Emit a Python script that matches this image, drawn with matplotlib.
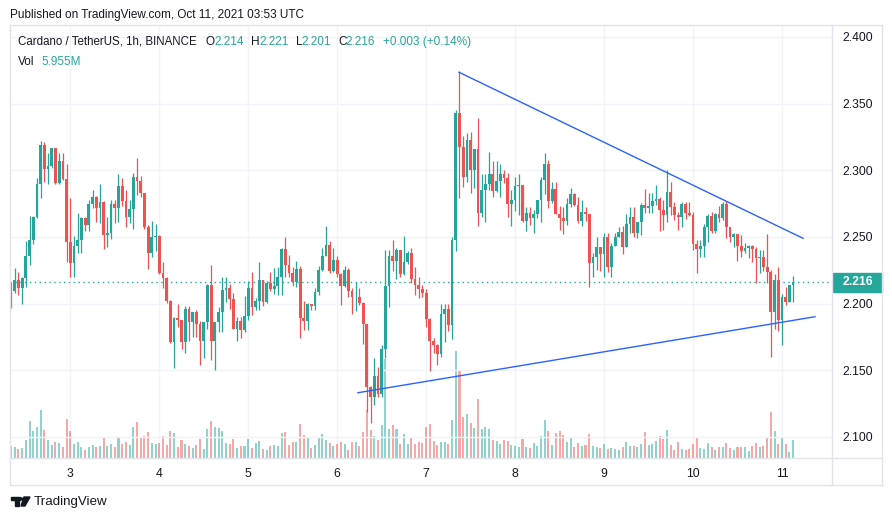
import numpy as np
import matplotlib.pyplot as plt
from matplotlib.lines import Line2D
from matplotlib.patches import Rectangle, Polygon, Circle
import matplotlib.transforms as mtransforms

plt.rcParams['font.family'] = ['Liberation Sans', 'DejaVu Sans']


# ADA/USDT 1h candles, Oct 2 08:00 UTC -> Oct 11 03:00 UTC
first_open = 2.2153

close = [
    2.2098, 2.2178, 2.2115, 2.2190, 2.2358, 2.2478, 2.2653, 2.2898, 2.3190, 2.3013,
    2.3033, 2.3165, 2.2908, 2.3073, 2.2938, 2.2465, 2.2308, 2.2433, 2.2478, 2.2645,
    2.2590, 2.2748, 2.2798, 2.2715, 2.2765, 2.2518, 2.2533, 2.2748, 2.2715, 2.2883,
    2.2770, 2.2653, 2.2708, 2.2948, 2.2923, 2.2833, 2.2578, 2.2383, 2.2503, 2.2508,
    2.2228, 2.2195, 2.2023, 2.1715, 2.1893, 2.1878, 2.1715, 2.1958, 2.1865, 2.1938,
    2.1845, 2.1723, 2.1860, 2.2140, 2.1723, 2.1865, 2.1935, 2.2103, 2.2115, 2.2038,
    2.1808, 2.1873, 2.1803, 2.1910, 2.2120, 2.1978, 2.2020, 2.2178, 2.2015, 2.2153,
    2.2110, 2.2135, 2.2203, 2.2408, 2.2290, 2.2233, 2.2165, 2.2258, 2.1895, 2.1870,
    2.1995, 2.1983, 2.2085, 2.2253, 2.2358, 2.2440, 2.2248, 2.2328, 2.2220, 2.2135,
    2.2253, 2.2098, 2.2048, 2.2053, 2.2008, 2.1845, 2.1378, 2.1298, 2.1458, 2.1323,
    2.1658, 2.2133, 2.2358, 2.2323, 2.2403, 2.2223, 2.2315, 2.2383, 2.2185, 2.2140,
    2.2108, 2.2083, 2.1885, 2.1723, 2.1690, 2.1623, 2.1920, 2.1960, 2.1840, 2.2478,
    2.3428, 2.3178, 2.2948, 2.3228, 2.3000, 2.3158, 2.2683, 2.2853, 2.2898, 2.2970,
    2.2848, 2.2923, 2.2973, 2.2940, 2.2748, 2.2778, 2.2883, 2.2888, 2.2623, 2.2678,
    2.2645, 2.2673, 2.2778, 2.2928, 2.3048, 2.2773, 2.2860, 2.2673, 2.2645, 2.2623,
    2.2748, 2.2823, 2.2740, 2.2623, 2.2685, 2.2673, 2.2303, 2.2353, 2.2423, 2.2370,
    2.2498, 2.2278, 2.2433, 2.2498, 2.2540, 2.2428, 2.2598, 2.2653, 2.2528, 2.2610,
    2.2740, 2.2715, 2.2733, 2.2770, 2.2783, 2.2703, 2.2665, 2.2840, 2.2728, 2.2665,
    2.2653, 2.2748, 2.2678, 2.2668, 2.2445, 2.2413, 2.2433, 2.2578, 2.2658, 2.2548,
    2.2670, 2.2643, 2.2748, 2.2578, 2.2503, 2.2523, 2.2433, 2.2398, 2.2418, 2.2433,
    2.2408, 2.2340, 2.2353, 2.2278, 2.2240, 2.1940, 2.2180, 2.1880, 2.2050, 2.2013,
    2.2140, 2.2160,
]

high = [
    2.2165, 2.2265, 2.2235, 2.2200, 2.2473, 2.2658, 2.2660, 2.2940, 2.3220, 2.3213,
    2.3133, 2.3170, 2.3133, 2.3130, 2.3133, 2.3050, 2.2795, 2.2508, 2.2683, 2.2653,
    2.2653, 2.2778, 2.2853, 2.2808, 2.2898, 2.2770, 2.2648, 2.2778, 2.2778, 2.2973,
    2.2940, 2.2853, 2.2778, 2.2983, 2.3090, 2.2958, 2.2833, 2.2590, 2.2623, 2.2598,
    2.2515, 2.2315, 2.2198, 2.2028, 2.1903, 2.1998, 2.1878, 2.1983, 2.1983, 2.1938,
    2.1953, 2.1870, 2.1860, 2.2148, 2.2290, 2.1865, 2.1978, 2.2198, 2.2198, 2.2148,
    2.2078, 2.1903, 2.1903, 2.2058, 2.2170, 2.2235, 2.2040, 2.2315, 2.2105, 2.2173,
    2.2235, 2.2270, 2.2273, 2.2415, 2.2498, 2.2365, 2.2278, 2.2320, 2.2285, 2.2018,
    2.2003, 2.2000, 2.2120, 2.2285, 2.2420, 2.2583, 2.2468, 2.2415, 2.2358, 2.2228,
    2.2285, 2.2270, 2.2115, 2.2165, 2.2115, 2.2010, 2.1850, 2.1380, 2.1595, 2.1525,
    2.1690, 2.2403, 2.2403, 2.2478, 2.2415, 2.2403, 2.2508, 2.2398, 2.2415, 2.2273,
    2.2203, 2.2140, 2.2108, 2.1890, 2.1740, 2.1700, 2.1995, 2.1995, 2.1995, 2.2503,
    2.3453, 2.3745, 2.3258, 2.3278, 2.3290, 2.3158, 2.3390, 2.2970, 2.2970, 2.3140,
    2.3070, 2.3070, 2.3045, 2.3000, 2.2978, 2.2853, 2.2948, 2.2973, 2.2888, 2.2723,
    2.2728, 2.2703, 2.2778, 2.2948, 2.3133, 2.3078, 2.2915, 2.2915, 2.2733, 2.2723,
    2.2790, 2.2865, 2.2833, 2.2803, 2.2778, 2.2726, 2.2673, 2.2383, 2.2503, 2.2423,
    2.2528, 2.2528, 2.2458, 2.2528, 2.2578, 2.2583, 2.2673, 2.2728, 2.2723, 2.2615,
    2.2753, 2.2860, 2.2833, 2.2833, 2.2890, 2.2798, 2.2778, 2.3003, 2.2915, 2.2765,
    2.2690, 2.2765, 2.2765, 2.2765, 2.2690, 2.2478, 2.2478, 2.2598, 2.2673, 2.2690,
    2.2683, 2.2733, 2.2765, 2.2773, 2.2565, 2.2533, 2.2523, 2.2515, 2.2458, 2.2443,
    2.2440, 2.2428, 2.2403, 2.2403, 2.2523, 2.2253, 2.2225, 2.2278, 2.2075, 2.2128,
    2.2140, 2.2210,
]

low = [
    2.1965, 2.2083, 2.2068, 2.1995, 2.2128, 2.2290, 2.2445, 2.2640, 2.2795, 2.2913,
    2.2895, 2.3020, 2.2895, 2.2895, 2.2930, 2.2315, 2.2203, 2.2203, 2.2383, 2.2383,
    2.2548, 2.2548, 2.2715, 2.2615, 2.2608, 2.2413, 2.2428, 2.2483, 2.2608, 2.2615,
    2.2733, 2.2578, 2.2608, 2.2558, 2.2815, 2.2803, 2.2558, 2.2260, 2.2353, 2.2398,
    2.2225, 2.2115, 2.2008, 2.1708, 2.1515, 2.1828, 2.1663, 2.1628, 2.1723, 2.1753,
    2.1753, 2.1540, 2.1595, 2.1810, 2.1578, 2.1503, 2.1785, 2.1785, 2.2015, 2.1960,
    2.1808, 2.1723, 2.1740, 2.1785, 2.1878, 2.1915, 2.1950, 2.1950, 2.1985, 2.2003,
    2.2098, 2.2075, 2.2063, 2.2063, 2.2203, 2.2203, 2.2135, 2.2128, 2.1745, 2.1803,
    2.1803, 2.1953, 2.1953, 2.2065, 2.2248, 2.2355, 2.2233, 2.2240, 2.2203, 2.1990,
    2.2128, 2.2048, 2.1923, 2.1948, 2.1990, 2.1695, 2.1190, 2.1103, 2.1240, 2.1303,
    2.1303, 2.1590, 2.1978, 2.2248, 2.2185, 2.2198, 2.2215, 2.2298, 2.2153, 2.2065,
    2.2040, 2.2048, 2.1828, 2.1497, 2.1627, 2.1540, 2.1603, 2.1715, 2.1797, 2.1732,
    2.2398, 2.2790, 2.2878, 2.2915, 2.2828, 2.2865, 2.2585, 2.2653, 2.2615, 2.2853,
    2.2798, 2.2840, 2.2803, 2.2908, 2.2648, 2.2583, 2.2698, 2.2665, 2.2615, 2.2548,
    2.2590, 2.2528, 2.2643, 2.2615, 2.2823, 2.2715, 2.2753, 2.2673, 2.2553, 2.2520,
    2.2590, 2.2723, 2.2733, 2.2603, 2.2585, 2.2623, 2.2128, 2.2203, 2.2253, 2.2248,
    2.2198, 2.2240, 2.2198, 2.2440, 2.2503, 2.2370, 2.2423, 2.2528, 2.2498, 2.2490,
    2.2513, 2.2680, 2.2680, 2.2680, 2.2740, 2.2548, 2.2553, 2.2615, 2.2665, 2.2628,
    2.2553, 2.2578, 2.2638, 2.2660, 2.2403, 2.2228, 2.2348, 2.2348, 2.2460, 2.2528,
    2.2533, 2.2613, 2.2628, 2.2490, 2.2465, 2.2428, 2.2323, 2.2348, 2.2378, 2.2340,
    2.2315, 2.2153, 2.2228, 2.2248, 2.2153, 2.1598, 2.1810, 2.1798, 2.1688, 2.1988,
    2.2013, 2.2010,
]

# volume in millions of ADA
volume = [
    4.0, 3.6, 3.0, 3.3, 5.9, 12.2, 8.9, 10.2, 15.8, 9.2,
    5.9, 4.3, 5.3, 5.0, 3.6, 12.9, 8.9, 4.6, 5.3, 3.6,
    2.6, 3.6, 4.3, 3.6, 4.0, 6.9, 4.0, 4.6, 3.6, 6.9,
    4.6, 5.3, 4.3, 10.2, 11.9, 6.9, 7.3, 8.6, 5.0, 4.6,
    5.0, 7.3, 4.3, 8.9, 8.3, 3.6, 5.9, 4.6, 4.0, 3.3,
    4.3, 6.3, 3.0, 9.6, 12.2, 10.2, 9.9, 8.9, 5.0, 4.6,
    6.3, 3.3, 4.0, 4.0, 6.3, 3.3, 5.0, 5.6, 3.0, 2.6,
    4.0, 4.3, 4.0, 8.3, 8.6, 4.3, 5.3, 5.3, 11.2, 7.6,
    6.6, 3.3, 4.3, 6.9, 7.9, 5.9, 5.0, 4.0, 4.6, 5.3,
    4.6, 2.6, 5.3, 5.3, 4.0, 8.6, 15.8, 9.2, 7.3, 5.9,
    10.9, 32.7, 9.6, 10.9, 9.6, 4.6, 7.9, 4.6, 6.6, 4.6,
    5.3, 5.0, 10.2, 11.2, 5.6, 4.3, 5.3, 5.3, 4.6, 12.5,
    35.3, 29.0, 13.5, 14.5, 11.6, 9.9, 19.5, 9.6, 10.2, 9.6,
    5.9, 5.6, 4.6, 5.9, 5.6, 4.3, 4.0, 3.6, 6.3, 3.6,
    3.3, 5.0, 4.0, 7.3, 12.5, 8.9, 4.3, 8.3, 8.9, 7.6,
    5.3, 6.9, 3.6, 5.0, 4.0, 4.3, 7.9, 4.0, 3.6, 3.3,
    4.6, 3.0, 3.3, 3.0, 2.6, 3.6, 5.3, 4.0, 4.0, 3.6,
    4.6, 8.6, 4.3, 4.6, 5.6, 7.3, 6.3, 9.2, 4.3, 2.6,
    5.3, 3.0, 2.6, 3.0, 4.6, 6.6, 3.3, 3.0, 5.0, 3.6,
    2.6, 3.6, 3.6, 5.0, 3.3, 2.6, 3.6, 3.6, 3.6, 2.3,
    4.0, 5.0, 3.6, 4.0, 6.6, 15.2, 8.9, 4.6, 6.6, 4.6,
    2.0, 5.955,
]

first_hour = 8  # hour of first candle (Oct 2)
day_labels = ['3', '4', '5', '6', '7', '8', '9', '10', '11']
price_ticks = [2.100, 2.150, 2.200, 2.250, 2.300, 2.350, 2.400]
last_price = 2.216

# drawn trend lines (candle index, price)
upper_trend_x = [120.9, 213.7]
upper_trend_y = [2.3735, 2.2490]
lower_trend_x = [93.6, 216.9]
lower_trend_y = [2.1332, 2.1902]

legend_items = [("O", "2.214"), ("H", "2.221"), ("L", "2.201"), ("C", "2.216")]


# Colors
up_col = "#26a69a"
down_col = "#ef5350"
text_col = "#131722"
grid_col = "#f0f3fa"
frame_col = "#e0e3eb"
trend_col = "#2962ff"

W, H = 892, 521


def fx(px):
    return px / W


def fy(py):
    return 1 - py / H


close = np.array(close)
high = np.array(high)
low = np.array(low)
volume = np.array(volume)
opens = np.r_[first_open, close[:-1]]
x = np.arange(len(close))
rising = close >= opens
high = np.maximum(high, np.maximum(opens, close))
low = np.minimum(low, np.minimum(opens, close))
colors = np.where(rising, up_col, down_col)

fig = plt.figure(figsize=(W / 100, H / 100), dpi=100)
fig.patch.set_facecolor("white")

ax = fig.add_axes([fx(10), fy(458), (832 - 10) / W, (458 - 25) / H])
ax2 = ax.twinx()
ax.set_zorder(ax2.get_zorder() + 1)
ax.patch.set_visible(False)

# Volume
ax2.bar(x, volume, width=0.55, color=colors, alpha=0.5, linewidth=0)
ax2.set_ylim(0, 142.8)
ax2.set_yticks([])
for s in ax2.spines.values():
    s.set_visible(False)

# Grid
day_ticks = [i for i in x if (first_hour + i) % 24 == 0]
for t in price_ticks:
    ax.axhline(t, color=grid_col, lw=1, zorder=0)
for d in day_ticks:
    ax2.axvline(d, color=grid_col, lw=1, zorder=0)

# Candles
ax.vlines(x, low, high, colors=colors, lw=0.9, zorder=3)
body_lo = np.minimum(opens, close)
body_h = np.maximum(np.abs(close - opens), 0.0005)
ax.bar(x, body_h, bottom=body_lo, width=0.75, color=colors, linewidth=0, zorder=4)

# Trend lines
ax.plot(upper_trend_x, upper_trend_y, color=trend_col, lw=1, zorder=5)
ax.plot(lower_trend_x, lower_trend_y, color=trend_col, lw=1, zorder=5)

# Last price line
ax.axhline(last_price, color=up_col, lw=1, ls=(0, (1, 2.5)), zorder=2)

ax.set_xlim(-0.27, 221.5)
ax.set_ylim(2.08425, 2.409)

ax.set_xticks(day_ticks)
ax.set_xticklabels(day_labels)
ax.yaxis.tick_right()
ax.set_yticks(price_ticks)
ax.set_yticklabels([f"{t:.3f}" for t in price_ticks])
ax.tick_params(axis="y", length=0, pad=7.5, labelsize=8.7, labelcolor=text_col)
ax.tick_params(axis="x", length=0, pad=7, labelsize=8.7, labelcolor=text_col)
for s in ax.spines.values():
    s.set_visible(False)

# Last price tag on the price scale
blend = mtransforms.blended_transform_factory(ax.transAxes, ax.transData)
ax.add_patch(Rectangle((1.0 + 1 / 822, last_price - 0.0072), 49 / 822, 0.0144,
                       transform=blend, color=up_col, clip_on=False, zorder=6))
ax.text(1.0 + 25.5 / 822, last_price, f"{last_price:.3f}", transform=blend,
        ha="center", va="center", color="white", fontsize=8.7,
        fontweight="bold", zorder=7)

# Frame
frame = [((10, 25), (882, 25)), ((10, 485), (882, 485)), ((10, 25), (10, 485)),
         ((882, 25), (882, 485)), ((832, 25), (832, 485)), ((10, 458), (882, 458))]
for (x0, y0), (x1, y1) in frame:
    fig.add_artist(Line2D([fx(x0), fx(x1)], [fy(y0), fy(y1)], color=frame_col, lw=1))

# Header text
fig.text(fx(10), fy(15), "Published on TradingView.com, Oct 11, 2021 03:53 UTC",
         fontsize=8.5, color=text_col, va="center")
fig.text(fx(18), fy(42), "Cardano / TetherUS, 1h, BINANCE",
         fontsize=8.3, color=text_col, va="center")
key_x = [205.5, 251.5, 296, 338]
val_x = [214.5, 259, 301, 345.5]
for kx, vx, (k, v) in zip(key_x, val_x, legend_items):
    fig.text(fx(kx), fy(42), k, fontsize=8.5, color=text_col, va="center")
    fig.text(fx(vx), fy(42), v, fontsize=8.5, color=up_col, va="center")
fig.text(fx(383), fy(42), "+0.003 (+0.14%)", fontsize=8.5, color=up_col, va="center")
fig.text(fx(18), fy(62), "Vol", fontsize=8.5, color=text_col, va="center")
fig.text(fx(41), fy(62), "5.955M", fontsize=8.5, color=up_col, va="center")

# Footer logo: simple TV mark + name
fig.add_artist(Rectangle((fx(11), fy(500)), 9 / W, 3 / H, transform=fig.transFigure,
                         color=text_col))
fig.add_artist(Rectangle((fx(15), fy(506)), 3.5 / W, 6 / H, transform=fig.transFigure,
                         color=text_col))
fig.add_artist(Circle((fx(21.5), fy(499)), 1.6 / W, transform=fig.transFigure,
                      color=text_col))
fig.add_artist(Polygon([(fx(24), fy(497)), (fx(30), fy(497)), (fx(25), fy(506)),
                        (fx(21), fy(506))], closed=True, transform=fig.transFigure,
                       color=text_col))
fig.text(fx(34), fy(502), "TradingView", fontsize=9.6, color=text_col, va="center")

plt.savefig("out.png", dpi=100)
